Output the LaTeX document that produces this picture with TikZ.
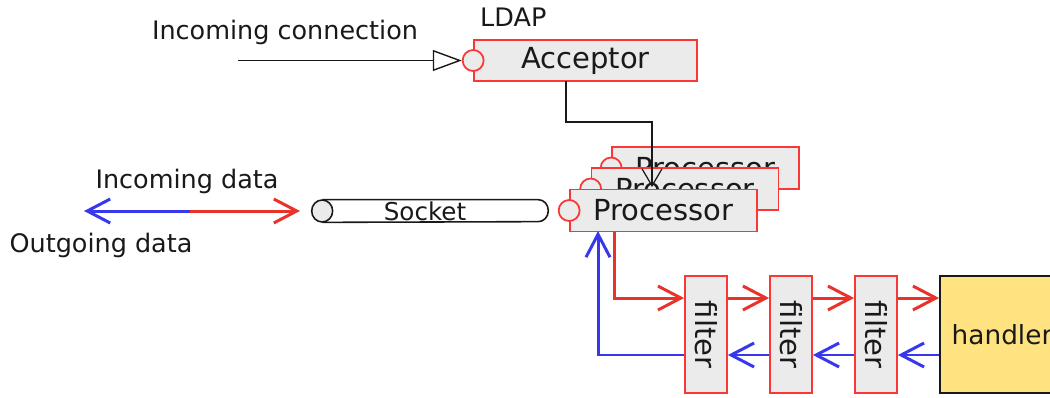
\documentclass[tikz,border=0pt]{standalone}
\usepackage{fontspec}
\setmainfont{DejaVu Sans}
\usetikzlibrary{
    arrows.meta,
    positioning
}
\definecolor{ink}{RGB}{25,25,25}
\definecolor{compred}{RGB}{250,55,55}
\definecolor{compfill}{RGB}{235,235,235}
\definecolor{inred}{RGB}{232,50,42}
\definecolor{outblue}{RGB}{55,55,238}
\definecolor{handlerfill}{RGB}{255,227,128}
\newcommand{\compfont}{\fontsize{16.5}{19}\selectfont}
\newcommand{\annotfont}{\fontsize{14.5}{17}\selectfont}
\tikzset{
    component/.style={
        rectangle,
        draw=compred,
        line width=1pt,
        fill=compfill,
        text=ink,
        minimum width=3.74cm,
        minimum height=0.84cm,
        inner sep=0pt,
        font=\compfont
    },
    port/.style={
        circle,
        draw=compred,
        line width=1pt,
        fill=compfill,
        minimum size=0.42cm,
        inner sep=0pt
    },
    filterbox/.style={
        component,
        minimum width=0.84cm,
        minimum height=2.34cm
    },
    handlerbox/.style={
        rectangle,
        draw=ink,
        line width=1pt,
        fill=handlerfill,
        text=ink,
        minimum width=2.48cm,
        minimum height=2.34cm,
        inner sep=0pt,
        font=\fontsize{15}{18}\selectfont
    },
    socketbox/.style={
        rectangle,
        minimum width=4.52cm,
        minimum height=0.44cm,
        inner sep=0pt,
        text=ink,
        font=\fontsize{14}{16}\selectfont
    },
    socketline/.style={
        draw=ink,
        line width=0.9pt
    },
    inflow/.style={
        -{Straight Barb[length=0.46cm,width=0.48cm]},
        draw=inred,
        line width=1.7pt
    },
    outflow/.style={
        inflow,
        draw=outblue
    },
    connect/.style={
        -{Triangle[open,length=0.58cm,width=0.42cm]},
        draw=ink,
        line width=0.8pt
    },
    ctrl/.style={
        -{Straight Barb[length=0.34cm,width=0.4cm]},
        draw=ink,
        line width=0.7pt
    },
    annot/.style={
        font=\annotfont,
        text=ink
    }
}

\begin{document}
\begin{tikzpicture}[x=0.02cm, y=0.02cm]
\useasboundingbox (0,0) rectangle (1050,397);

% === Acceptor ===
\node[annot] (conntext) at (285,365) {Incoming connection};
\node[annot, anchor=west] (ldap) at (474,380) {LDAP};
\node[component, minimum width=4.46cm, minimum height=0.82cm] (acceptor) at (585.5,336.5) {Acceptor};
\node[port] (accport) at (acceptor.west) {};
\coordinate (connstart) at (238,336.5);
\draw[connect] (connstart) -- (accport.west);

% === Processor stack ===
\node[component] (proc3) at (705.5,229) {Processor};
\node[port] (proc3port) at (proc3.west) {};
\node[component] (proc2) at (685,208) {Processor};
\node[port] (proc2port) at (proc2.west) {};
\node[component] (proc1) at (663.5,186.5) {Processor};
\node[port] (proc1port) at (proc1.west) {};

\coordinate (accout) at (566,316);
\coordinate (procin) at (652,210);
\draw[ctrl] (accout) -- ++(0,-41) -| (procin);

% === Socket and data ===
\node[socketbox] (socket) at (425,186) {Socket};
\draw[socketline] ([xshift=0.22cm]socket.north west) -- (socket.north east)
    arc[start angle=90, end angle=-90, x radius=0.2cm, y radius=0.22cm]
    -- ([xshift=0.22cm]socket.south west);
\draw[socketline, fill=compfill] ([xshift=0.21cm]socket.west) ellipse[x radius=0.21cm, y radius=0.22cm];

\node[annot] (intext) at (187,216) {Incoming data};
\node[annot] (outtext) at (101,152) {Outgoing data};
\coordinate (dataleft) at (84,186);
\coordinate (datamid) at (190,186);
\coordinate (dataright) at (300,186);
\draw[outflow] (datamid) -- (dataleft);
\draw[inflow] (datamid) -- (dataright);

% === Filter chain ===
\node[filterbox] (filter1) at (706,62.5) {\rotatebox{-90}{filter}};
\node[filterbox] (filter2) at (791,62.5) {\rotatebox{-90}{filter}};
\node[filterbox] (filter3) at (876,62.5) {\rotatebox{-90}{filter}};
\node[handlerbox] (handler) at (1002,62.5) {handler};

\coordinate (procout) at (614,165);
\coordinate (procret) at (598,166);
\draw[inflow] (procout) |- ([yshift=0.73cm]filter1.west);
\draw[inflow] ([yshift=0.73cm]filter1.east) -- ([yshift=0.73cm]filter2.west);
\draw[inflow] ([yshift=0.73cm]filter2.east) -- ([yshift=0.73cm]filter3.west);
\draw[inflow] ([yshift=0.73cm]filter3.east) -- ([yshift=0.73cm]handler.west);

\draw[outflow] ([yshift=-0.41cm]handler.west) -- ([yshift=-0.41cm]filter3.east);
\draw[outflow] ([yshift=-0.41cm]filter3.west) -- ([yshift=-0.41cm]filter2.east);
\draw[outflow] ([yshift=-0.41cm]filter2.west) -- ([yshift=-0.41cm]filter1.east);
\draw[outflow] ([yshift=-0.41cm]filter1.west) -| (procret);

\end{tikzpicture}
\end{document}
